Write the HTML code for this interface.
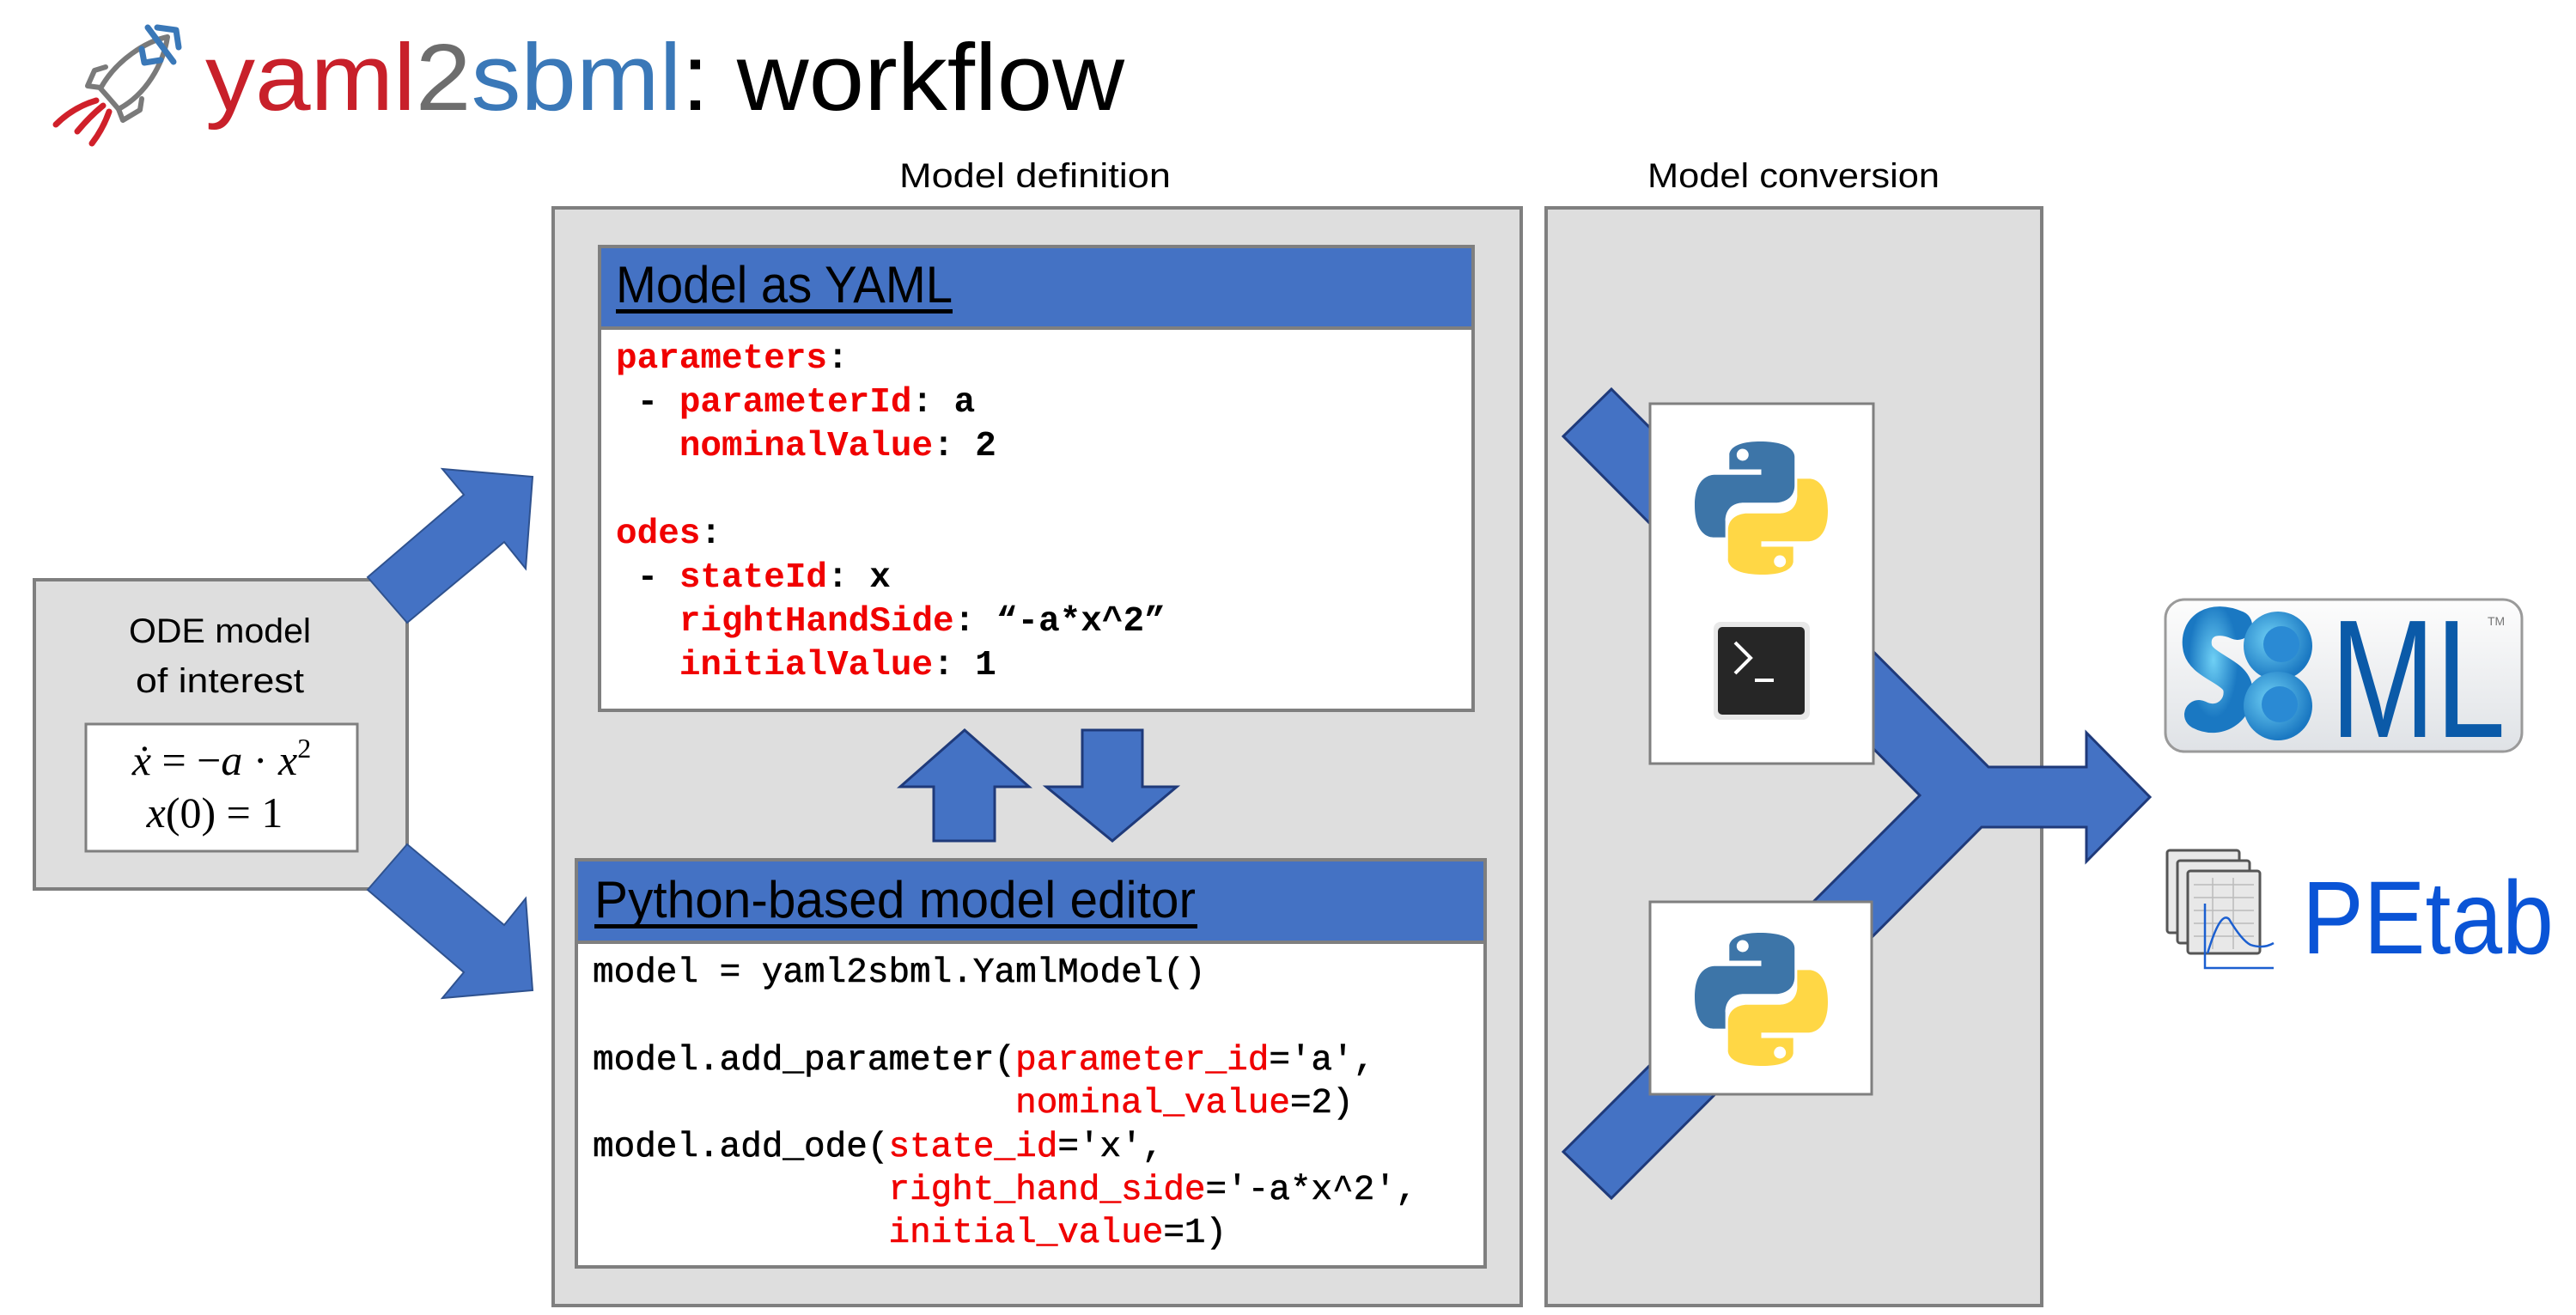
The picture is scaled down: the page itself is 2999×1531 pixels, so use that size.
<!DOCTYPE html>
<html><head><meta charset="utf-8"><style>
html,body{margin:0;padding:0;background:#fff;}
svg{display:block;}
.mono{font-family:"Liberation Mono",monospace;}
.mono text{white-space:pre;}
</style></head><body>
<svg width="2999" height="1531" viewBox="0 0 2999 1531" xmlns="http://www.w3.org/2000/svg">
<defs>
<g id="py">
<path d="M49,0 C25,0 26,10 26,10 L26,21 L50,21 L50,25 L16,25 C16,25 0,23 0,48 C0,73 14,72 14,72 L23,72 L23,60 C23,60 22,46 37,46 L61,46 C61,46 75,46 75,33 L75,12 C75,12 77,0 49,0 Z" fill="#3d75a8"/>
<circle cx="36" cy="10" r="4.5" fill="#fff"/>
<g transform="rotate(180 50 50)">
<path d="M49,0 C25,0 26,10 26,10 L26,21 L50,21 L50,25 L16,25 C16,25 0,23 0,48 C0,73 14,72 14,72 L23,72 L23,60 C23,60 22,46 37,46 L61,46 C61,46 75,46 75,33 L75,12 C75,12 77,0 49,0 Z" fill="#ffd745"/>
<circle cx="36" cy="10" r="4.5" fill="#fff"/>
</g>
</g>
<linearGradient id="sb" x1="0" y1="0" x2="0" y2="1"><stop offset="0" stop-color="#fdfdfd"/><stop offset="1" stop-color="#dfe2e6"/></linearGradient>
<radialGradient id="bl" cx="0.4" cy="0.4" r="0.6"><stop offset="0" stop-color="#6fd0f5"/><stop offset="1" stop-color="#1a78c2"/></radialGradient>
</defs>

<!-- rocket -->
<g fill="none" stroke-linecap="round" stroke-linejoin="round">
<path d="M195,43 C170,48 135,70 117,103 L125,112 L138,127 C170,110 190,75 195,43 Z" stroke="#7a7a7a" stroke-width="6"/>
<path d="M123,78 L110,82 L102,100 L117,102" stroke="#7a7a7a" stroke-width="6"/>
<path d="M165,115 L163,128 L143,140 L138,127" stroke="#7a7a7a" stroke-width="6"/>
<path d="M172,32 L202,72" stroke="#3a78b8" stroke-width="7"/>
<path d="M183,32 L205,35 L208,55" stroke="#3a78b8" stroke-width="7"/>
<path d="M165,57 L168,73 L187,70" stroke="#3a78b8" stroke-width="7"/>
<path d="M65,145 Q85,125 112,117" stroke="#d0202a" stroke-width="7"/>
<path d="M90,153 Q105,135 120,123" stroke="#d0202a" stroke-width="7"/>
<path d="M107,167 Q120,150 127,130" stroke="#d0202a" stroke-width="7"/>
</g>
<text x="239" y="128" font-family="Liberation Sans, sans-serif" font-size="110" textLength="1070" lengthAdjust="spacingAndGlyphs"><tspan fill="#c8202a">yaml</tspan><tspan fill="#6d6d6d">2</tspan><tspan fill="#3a78b8">sbml</tspan><tspan fill="#000">: workflow</tspan></text>

<!-- section labels -->
<text x="1205" y="218" text-anchor="middle" font-family="Liberation Sans, sans-serif" font-size="40" textLength="316" lengthAdjust="spacingAndGlyphs">Model definition</text>
<text x="2088" y="218" text-anchor="middle" font-family="Liberation Sans, sans-serif" font-size="40" textLength="340" lengthAdjust="spacingAndGlyphs">Model conversion</text>

<!-- big boxes -->
<rect x="644" y="242" width="1127" height="1278" fill="#dedede" stroke="#7f7f7f" stroke-width="4"/>
<rect x="1800" y="242" width="577" height="1278" fill="#dedede" stroke="#7f7f7f" stroke-width="4"/>

<!-- ODE box -->
<rect x="40" y="675" width="434" height="360" fill="#dedede" stroke="#7f7f7f" stroke-width="4"/>
<text x="256" y="748" text-anchor="middle" font-family="Liberation Sans, sans-serif" font-size="40" textLength="212" lengthAdjust="spacingAndGlyphs">ODE model</text>
<text x="256" y="806" text-anchor="middle" font-family="Liberation Sans, sans-serif" font-size="40" textLength="196" lengthAdjust="spacingAndGlyphs">of interest</text>
<rect x="100" y="843" width="316" height="148" fill="#fff" stroke="#7f7f7f" stroke-width="3"/>
<text x="258" y="902" text-anchor="middle" font-family="Liberation Serif, serif" font-size="50"><tspan font-style="italic">ẋ</tspan> = −<tspan font-style="italic">a</tspan> · <tspan font-style="italic">x</tspan><tspan font-size="32" dy="-20">2</tspan></text>
<text x="250" y="963" text-anchor="middle" font-family="Liberation Serif, serif" font-size="50"><tspan font-style="italic">x</tspan>(0) = 1</text>

<!-- arrows from ODE -->
<polygon points="428,672 540,576 515,546 620,555 612,662 587,631 474,725" fill="#4472c4" stroke="#2f528f" stroke-width="2"/>
<polygon points="428,1036 540,1132 515,1162 620,1153 612,1046 587,1077 474,983" fill="#4472c4" stroke="#2f528f" stroke-width="2"/>

<!-- YAML box -->
<rect x="698" y="287" width="1017" height="540" fill="#fff" stroke="#7f7f7f" stroke-width="4"/>
<rect x="698" y="287" width="1017" height="95" fill="#4472c4" stroke="#7f7f7f" stroke-width="4"/>
<text x="717" y="352" font-family="Liberation Sans, sans-serif" font-size="60" textLength="392" lengthAdjust="spacingAndGlyphs">Model as YAML</text>
<rect x="717" y="360" width="392" height="5" fill="#000"/>
<g class="mono" font-size="41" font-weight="bold">
<text x="717" y="428"><tspan fill="#f00000">parameters</tspan>:</text>
<text x="717" y="479"> - <tspan fill="#f00000">parameterId</tspan>: a</text>
<text x="717" y="530">   <tspan fill="#f00000">nominalValue</tspan>: 2</text>
<text x="717" y="632"><tspan fill="#f00000">odes</tspan>:</text>
<text x="717" y="683"> - <tspan fill="#f00000">stateId</tspan>: x</text>
<text x="717" y="734">   <tspan fill="#f00000">rightHandSide</tspan>: “-a*x^2”</text>
<text x="717" y="785">   <tspan fill="#f00000">initialValue</tspan>: 1</text>
</g>

<!-- up/down arrows -->
<polygon points="1123,850 1198,916 1158,916 1158,979 1087,979 1087,916 1048,916" fill="#4472c4" stroke="#1f3a7a" stroke-width="3"/>
<polygon points="1260,850 1330,850 1330,916 1370,916 1295,979 1218,916 1260,916" fill="#4472c4" stroke="#1f3a7a" stroke-width="3"/>

<!-- Python editor -->
<rect x="671" y="1001" width="1058" height="474" fill="#fff" stroke="#7f7f7f" stroke-width="4"/>
<rect x="671" y="1001" width="1058" height="96" fill="#4472c4" stroke="#7f7f7f" stroke-width="4"/>
<text x="692" y="1068" font-family="Liberation Sans, sans-serif" font-size="60" textLength="700" lengthAdjust="spacingAndGlyphs">Python-based model editor</text>
<rect x="692" y="1076" width="702" height="5" fill="#000"/>
<g class="mono" font-size="41" fill="#000" stroke="#000" stroke-width="0.6">
<text x="690" y="1143">model = yaml2sbml.YamlModel()</text>
<text x="690" y="1245">model.add_parameter(<tspan fill="#f00000" stroke="#f00000">parameter_id</tspan>='a',</text>
<text x="690" y="1295">                    <tspan fill="#f00000" stroke="#f00000">nominal_value</tspan>=2)</text>
<text x="690" y="1346">model.add_ode(<tspan fill="#f00000" stroke="#f00000">state_id</tspan>='x',</text>
<text x="690" y="1396">              <tspan fill="#f00000" stroke="#f00000">right_hand_side</tspan>='-a*x^2',</text>
<text x="690" y="1446">              <tspan fill="#f00000" stroke="#f00000">initial_value</tspan>=1)</text>
</g>

<!-- merge arrow -->
<polygon points="1820,508 1876,453 2315,893 2429,893 2429,853 2503,928 2429,1003 2429,963 2307,963 1876,1395 1820,1341 2235,926" fill="#4472c4" stroke="#1f3a7a" stroke-width="3"/>

<!-- cards -->
<rect x="1921" y="470" width="260" height="419" fill="#fff" stroke="#7f7f7f" stroke-width="3"/>
<use href="#py" transform="translate(1973,514) scale(1.55)"/>
<rect x="1995" y="724" width="112" height="114" rx="8" fill="#e8e8e8"/>
<rect x="2000" y="730" width="101" height="102" rx="5" fill="#262626"/>
<path d="M2020,748 L2038,766 L2020,784" fill="none" stroke="#fff" stroke-width="4"/>
<rect x="2043" y="790" width="22" height="4" fill="#fff"/>
<rect x="1921" y="1050" width="258" height="224" fill="#fff" stroke="#7f7f7f" stroke-width="3"/>
<use href="#py" transform="translate(1973,1086) scale(1.55)"/>

<!-- SBML -->
<rect x="2521" y="698" width="415" height="177" rx="22" fill="url(#sb)" stroke="#9a9a9a" stroke-width="3"/>
<g fill="none" stroke="url(#bl)" stroke-width="34" stroke-linecap="round">
<path d="M2605,728 C2575,715 2555,730 2558,752 C2560,775 2600,780 2605,800 C2610,825 2585,845 2560,832"/>
</g>
<circle cx="2652" cy="752" r="40" fill="url(#bl)"/>
<circle cx="2652" cy="822" r="40" fill="url(#bl)"/>
<circle cx="2656" cy="750" r="21" fill="#2a8ad4"/>
<circle cx="2654" cy="820" r="21" fill="#2a8ad4"/>
<text x="2713" y="858" font-family="Liberation Sans, sans-serif" font-size="196" fill="#0b5aa8" textLength="204" lengthAdjust="spacingAndGlyphs">ML</text>
<text x="2896" y="728" font-family="Liberation Sans, sans-serif" font-size="14" fill="#777">TM</text>

<!-- PEtab -->
<g stroke="#555" stroke-width="3" fill="#e8e8e8">
<rect x="2523" y="990" width="84" height="96" rx="3"/>
<rect x="2535" y="1002" width="84" height="96" rx="3"/>
<rect x="2547" y="1014" width="84" height="96" rx="3"/>
</g>
<g stroke="#bbb" stroke-width="1.5">
<line x1="2554" y1="1030" x2="2624" y2="1030"/><line x1="2554" y1="1045" x2="2624" y2="1045"/>
<line x1="2554" y1="1060" x2="2624" y2="1060"/><line x1="2554" y1="1075" x2="2624" y2="1075"/>
<line x1="2554" y1="1090" x2="2624" y2="1090"/><line x1="2576" y1="1022" x2="2576" y2="1105"/>
<line x1="2600" y1="1022" x2="2600" y2="1105"/>
</g>
<g fill="none" stroke="#1b5fd0" stroke-width="2.5">
<path d="M2567,1052 L2567,1127 L2647,1127"/>
<path d="M2570,1110 Q2585,1060 2595,1070 Q2610,1095 2620,1100 Q2635,1105 2647,1098"/>
</g>
<text x="2680" y="1110" font-family="Liberation Sans, sans-serif" font-size="121" fill="#0a54d6" textLength="293" lengthAdjust="spacingAndGlyphs">PEtab</text>
</svg>
</body></html>
